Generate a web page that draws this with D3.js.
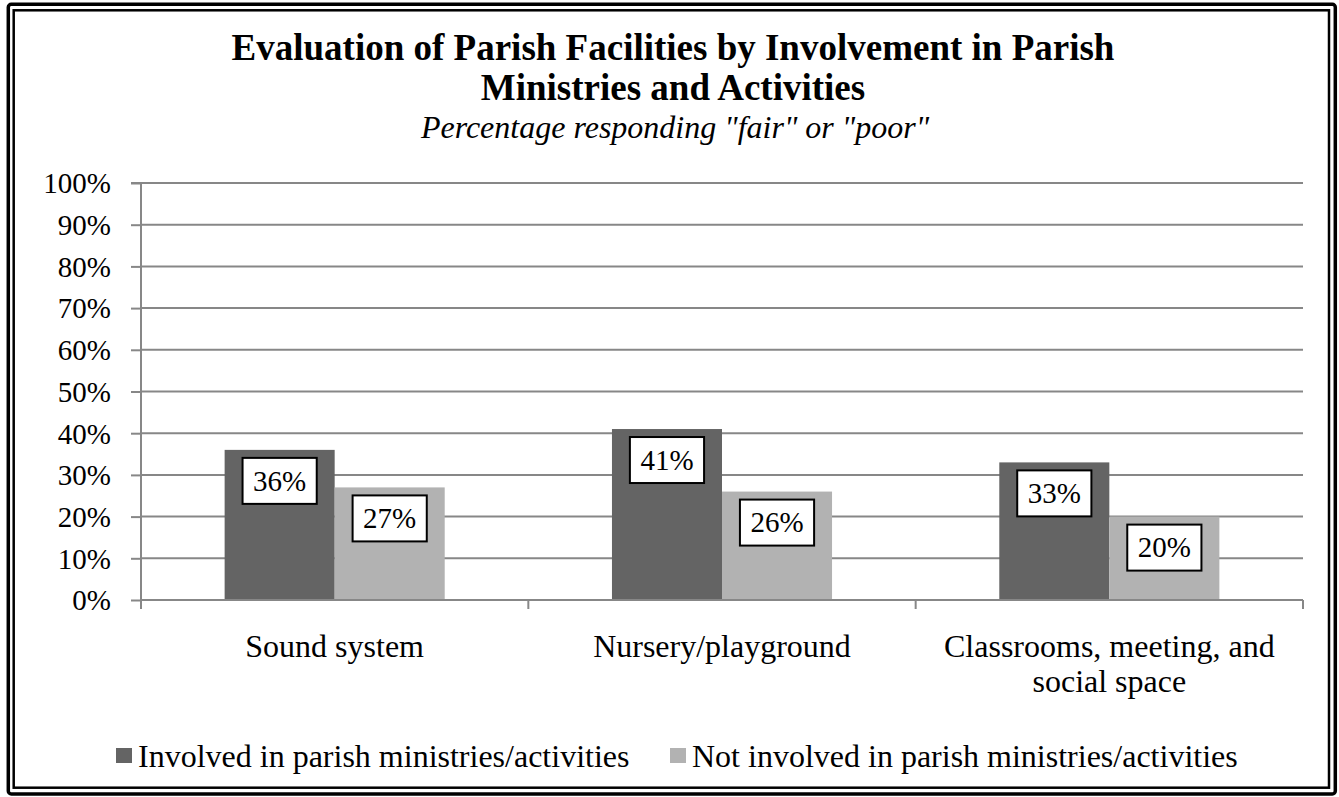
<!DOCTYPE html>
<html>
<head>
<meta charset="utf-8">
<script src="https://cdn.jsdelivr.net/npm/d3@7"></script>
<style>
  html, body { margin: 0; padding: 0; background: #fff; }
  svg { display: block; }
  text { font-family: "Liberation Serif", "Times New Roman", serif; fill: #000; }
</style>
</head>
<body>
<svg id="chart" width="1339" height="797"></svg>
<script>
const categories = ["Sound system", "Nursery/playground", "Classrooms, meeting, and social space"];
const categoryLines = [["Sound system"], ["Nursery/playground"], ["Classrooms, meeting, and", "social space"]];
const seriesNames = ["Involved in parish ministries/activities", "Not involved in parish ministries/activities"];
const involved = [0.36, 0.41, 0.33];
const notInvolved = [0.27, 0.26, 0.20];
const seriesColors = ["#646464", "#b2b2b2"];
const yTicks = [0, 0.1, 0.2, 0.3, 0.4, 0.5, 0.6, 0.7, 0.8, 0.9, 1.0];
const titleLines = ["Evaluation of Parish Facilities by Involvement in Parish", "Ministries and Activities"];
const subtitle = "Percentage responding \"fair\" or \"poor\"";

const seriesValues = [involved, notInvolved];
const svg = d3.select("#chart");

// Double border
svg.append("rect").attr("x", 8.3).attr("y", 4.3).attr("width", 1335.3 - 8.3).attr("height", 794 - 4.3)
  .attr("rx", 3).attr("fill", "#fff").attr("stroke", "#000").attr("stroke-width", 3.5);
svg.append("rect").attr("x", 13.7).attr("y", 10.3).attr("width", 1329 - 13.7).attr("height", 787.7 - 10.3)
  .attr("fill", "none").attr("stroke", "#000").attr("stroke-width", 2.5);

// Title
svg.append("text").attr("x", 673).attr("y", 60).attr("text-anchor", "middle")
  .style("font-size", "37px").style("font-weight", "bold").text(titleLines[0]);
svg.append("text").attr("x", 673).attr("y", 100).attr("text-anchor", "middle")
  .style("font-size", "37px").style("font-weight", "bold").text(titleLines[1]);
svg.append("text").attr("x", 675).attr("y", 138).attr("text-anchor", "middle")
  .style("font-size", "32px").style("font-style", "italic").text(subtitle);

const x0 = 141, x1 = 1303, yBottom = 600, yTop = 183;
const x = d3.scaleBand().domain(categories).range([x0, x1]).padding(0);
const xs = d3.scaleBand().domain(seriesNames).range([0, x.bandwidth()]).paddingInner(0).paddingOuter(0.76);
const y = d3.scaleLinear().domain([0, 1]).range([yBottom, yTop]);

const gridColor = "#878787";

// Gridlines
svg.append("g").selectAll("line").data(yTicks.slice(1)).join("line")
  .attr("x1", x0).attr("x2", x1).attr("y1", d => y(d)).attr("y2", d => y(d))
  .attr("stroke", gridColor).attr("stroke-width", 2);

// Y axis
const yAxis = d3.axisLeft(y).tickValues(yTicks).tickFormat(d3.format(".0%")).tickSize(10).tickPadding(20);
const gy = svg.append("g").attr("transform", `translate(${x0},0)`).call(yAxis);
gy.attr("font-family", null);
gy.select(".domain").attr("stroke", gridColor).attr("stroke-width", 2).attr("d", `M-10,${yTop}H0V${yBottom}`);
gy.selectAll(".tick line").attr("stroke", gridColor).attr("stroke-width", 2);
gy.selectAll(".tick text").style("font-size", "29px").style("font-family", "Liberation Serif, serif").attr("fill", "#000").attr("dy", "0.34em");

// Bars
const barG = svg.append("g");
categories.forEach((c, i) => {
  seriesNames.forEach((s, j) => {
    const v = seriesValues[j][i];
    barG.append("rect")
      .attr("x", x(c) + xs(s)).attr("width", xs.bandwidth())
      .attr("y", y(v)).attr("height", y(0) - y(v))
      .attr("fill", seriesColors[j]);
  });
});

// X axis line with category boundary ticks
const gx = svg.append("g");
gx.append("line").attr("x1", x0).attr("x2", x1).attr("y1", yBottom).attr("y2", yBottom)
  .attr("stroke", gridColor).attr("stroke-width", 2);
const bounds = categories.map(c => x(c)).concat([x1]);
gx.selectAll("line.b").data(bounds).join("line").attr("class", "b")
  .attr("x1", d => d).attr("x2", d => d).attr("y1", yBottom).attr("y2", yBottom + 9)
  .attr("stroke", gridColor).attr("stroke-width", 2);

// Category labels
categories.forEach((c, i) => {
  const t = svg.append("text").attr("x", x(c) + x.bandwidth() / 2).attr("y", 657)
    .attr("text-anchor", "middle").style("font-size", "32px");
  categoryLines[i].forEach((ln, k) => {
    t.append("tspan").attr("x", x(c) + x.bandwidth() / 2).attr("dy", k === 0 ? 0 : 35).text(ln);
  });
});

// Data labels
const labelG = svg.append("g");
categories.forEach((c, i) => {
  seriesNames.forEach((s, j) => {
    const v = seriesValues[j][i];
    const cx = x(c) + xs(s) + xs.bandwidth() / 2;
    const top = y(v) + 8;
    const g = labelG.append("g");
    const rect = g.append("rect");
    const t = g.append("text").attr("x", cx).attr("y", top + 23).attr("dy", "0.34em")
      .attr("text-anchor", "middle").style("font-size", "29px").text(d3.format(".0%")(v));
    const w = t.node().getComputedTextLength() + 21;
    rect.attr("x", cx - w / 2).attr("y", top).attr("width", w).attr("height", 46)
      .attr("fill", "#fff").attr("stroke", "#000").attr("stroke-width", 2);
  });
});

// Legend
const legendX = [116, 670];
seriesNames.forEach((s, j) => {
  svg.append("rect").attr("x", legendX[j]).attr("y", 748).attr("width", 16).attr("height", 15)
    .attr("fill", seriesColors[j]);
  svg.append("text").attr("x", legendX[j] + 22).attr("y", 767).style("font-size", "32px").text(s);
});
</script>
</body>
</html>
